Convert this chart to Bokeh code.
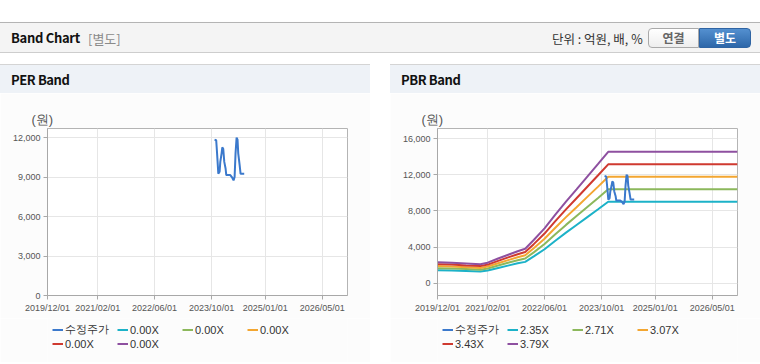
import pandas as pd
from bokeh.plotting import figure
from bokeh.models import (Range1d, FixedTicker, DatetimeTickFormatter, NumeralTickFormatter,
                          Legend, LegendItem, Title, Div, Spacer)
from bokeh.layouts import column, row
from bokeh.embed import file_html
from bokeh.resources import INLINE

# ---------------- data ----------------
x_start = "2019-12-01"
x_end = "2026-12-03"
x_ticks = ["2019-12-01", "2021-02-01", "2022-06-01", "2023-10-01", "2025-01-01", "2026-05-01"]

price_label = "수정주가"
price_dates = ["2023-10-26", "2023-11-09", "2023-11-15", "2023-11-21", "2023-11-27", "2023-12-08",
               "2023-12-14", "2023-12-25", "2023-12-31", "2024-01-08", "2024-01-17", "2024-01-28",
               "2024-02-03", "2024-03-08", "2024-03-25", "2024-04-05", "2024-04-14", "2024-04-22",
               "2024-05-01", "2024-05-09", "2024-05-15", "2024-05-27", "2024-06-04", "2024-07-05"]
price_values = [11850, 11800, 11000, 10150, 9250, 9400,
                10150, 10800, 11250, 11150, 10150, 9650,
                9150, 9150, 8950, 8750, 9000, 10800,
                12000, 11850, 10800, 9900, 9250, 9250]

per_labels = ["0.00X", "0.00X", "0.00X", "0.00X", "0.00X"]
per_yticks = [0, 3000, 6000, 9000, 12000]
per_yrange = (0, 12690)

band_dates = ["2019-12-01", "2020-04-01", "2020-08-01", "2020-12-01", "2021-02-01", "2021-05-01",
              "2021-08-01", "2021-10-15", "2021-12-18", "2022-03-01", "2022-06-01", "2022-09-01",
              "2022-12-01", "2023-03-01", "2023-06-01", "2023-09-01", "2023-11-26", "2026-12-03"]
pbr_labels = ["2.35X", "2.71X", "3.07X", "3.43X", "3.79X"]
pbr_235 = [1440, 1410, 1350, 1290, 1410, 1690, 1970, 2200, 2360, 2960, 3760, 4700, 5590, 6440, 7310, 8180, 9010, 9010]
pbr_271 = [1660, 1630, 1560, 1490, 1630, 1950, 2280, 2530, 2730, 3410, 4340, 5420, 6450, 7430, 8430, 9430, 10390, 10390]
pbr_307 = [1890, 1840, 1770, 1690, 1840, 2210, 2580, 2870, 3090, 3870, 4910, 6140, 7310, 8410, 9550, 10680, 11770, 11770]
pbr_343 = [2110, 2060, 1970, 1890, 2060, 2470, 2880, 3210, 3450, 4320, 5490, 6860, 8160, 9400, 10670, 11940, 13150, 13150]
pbr_379 = [2330, 2270, 2180, 2090, 2270, 2730, 3180, 3540, 3810, 4780, 6060, 7580, 9020, 10380, 11790, 13190, 14530, 14530]
pbr_yticks = [0, 4000, 8000, 12000, 16000]
pbr_yrange = (-1360, 17110)

price_color = "#3b79cc"
band_colors = ["#1cb2c8", "#8cb85c", "#f3a631", "#cf3a30", "#8e50a0"]

FONT = "Liberation Sans"
KFONT = "Noto Sans CJK KR"
PANEL_BG = "#fcfcfc"


def ts(s):
    return pd.Timestamp(s).to_pydatetime()


def make_fig(yr, yticks, band_series):
    p = figure(width=370, height=225, x_axis_type="datetime",
               x_range=Range1d(start=ts(x_start), end=ts(x_end)),
               y_range=Range1d(start=yr[0], end=yr[1]),
               output_backend="svg", toolbar_location=None,
               min_border_left=47, min_border_right=23, min_border_top=35, min_border_bottom=23,
               background_fill_color="white", border_fill_color=PANEL_BG,
               outline_line_color="#b4b4b4")
    p.xaxis.ticker = FixedTicker(ticks=[pd.Timestamp(t).value // 10**6 for t in x_ticks])
    fmt = "%Y/%m/%d"
    p.xaxis.formatter = DatetimeTickFormatter(milliseconds=fmt, seconds=fmt, minsec=fmt, minutes=fmt,
                                              hourmin=fmt, hours=fmt, days=fmt, months=fmt, years=fmt)
    p.yaxis.ticker = FixedTicker(ticks=yticks)
    p.yaxis.formatter = NumeralTickFormatter(format="0,0")
    for ax in (p.xaxis[0], p.yaxis[0]):
        ax.axis_line_color = "#a8a8a8"
        ax.major_tick_line_color = "#a8a8a8"
        ax.major_tick_out = 4
        ax.major_tick_in = 0
        ax.minor_tick_line_color = None
        ax.major_label_text_font = FONT
        ax.major_label_text_font_size = "9px"
        ax.major_label_text_color = "#555555"
        ax.major_label_standoff = 3
    p.grid.grid_line_color = "#e6e6e6"

    p.add_layout(Title(text="(원)", align="left", offset=-16, standoff=3,
                       text_font=FONT, text_font_size="13px", text_font_style="normal",
                       text_color="#555555"), "above")

    for ser, col in zip(band_series, band_colors):
        if ser is not None:
            p.line(x=[ts(d) for d in band_dates], y=ser, line_color=col, line_width=2)
    p.line(x=[ts(d) for d in price_dates], y=price_values, line_color=price_color, line_width=2)
    return p


def make_legend(band_labels):
    # legend-only strip below the chart (its frame is aligned with the chart frame above)
    lf = figure(width=370, height=44, output_backend="svg", toolbar_location=None,
                x_axis_location=None, y_axis_location=None, min_border=0,
                x_range=Range1d(0, 1), y_range=Range1d(0, 1),
                outline_line_color=None, background_fill_color=PANEL_BG, border_fill_color=PANEL_BG)
    lf.grid.visible = False
    hidden = dict(x=[5, 6], y=[5, 6], line_width=2)  # outside the visible range: legend swatches only
    items = [LegendItem(label=price_label, renderers=[lf.line(line_color=price_color, **hidden)])]
    for lab, col in zip(band_labels, band_colors):
        items.append(LegendItem(label=lab, renderers=[lf.line(line_color=col, **hidden)]))
    common = dict(orientation="horizontal", border_line_color=None, background_fill_alpha=0,
                  glyph_width=11, glyph_height=13, label_height=13, label_width=52,
                  label_standoff=2, spacing=0, padding=0, margin=0,
                  label_text_font=FONT, label_text_font_size="11px", label_text_color="#333333")
    lf.add_layout(Legend(items=items[:4], location=(5, 25), **common), "center")
    lf.add_layout(Legend(items=items[4:], location=(5, 12), **common), "center")
    return lf


p_per = make_fig(per_yrange, per_yticks, [None] * 5)
p_pbr = make_fig(pbr_yrange, pbr_yticks, [pbr_235, pbr_271, pbr_307, pbr_343, pbr_379])
l_per = make_legend(per_labels)
l_pbr = make_legend(pbr_labels)

top_html = f"""
<div style="position:relative;width:760px;height:53px;background:#ffffff;overflow:hidden;">
 <div style="position:absolute;left:0;top:22px;width:760px;height:31px;box-sizing:border-box;background:#f4f4f4;border-top:1px solid #b4b4b4;border-bottom:1px solid #cdcdcd;box-shadow:0 1px 2px rgba(0,0,0,0.10);"></div>
 <span style="position:absolute;left:11px;top:29px;font:bold 13px '{KFONT}';letter-spacing:-0.3px;line-height:18px;color:#111;white-space:nowrap;">Band Chart</span>
 <span style="position:absolute;left:88px;top:30px;font:normal 13px '{KFONT}';line-height:17px;color:#8a8a8a;white-space:nowrap;">[별도]</span>
 <span style="position:absolute;left:552px;top:31px;font:normal 12.5px '{KFONT}';line-height:16px;color:#333;white-space:nowrap;">단위 : 억원, 배, %</span>
 <div style="position:absolute;left:648px;top:28px;width:51px;height:20px;box-sizing:border-box;border:1px solid #a9a9a9;border-radius:4px 0 0 4px;background:linear-gradient(#ffffff,#eeeeee);font:bold 12px '{KFONT}';line-height:18px;text-align:center;color:#666;">연결</div>
 <div style="position:absolute;left:699px;top:28px;width:52px;height:20px;box-sizing:border-box;border:1px solid #2f64a3;border-radius:0 4px 4px 0;background:linear-gradient(#5490d0,#2d67a9);font:bold 12px '{KFONT}';line-height:18px;text-align:center;color:#fff;">별도</div>
</div>
"""


def panel_header(text):
    return Div(text=f"""<div style="position:relative;width:370px;height:29px;box-sizing:border-box;background:#eef2f7;border-top:1px solid #d4d4d4;">
<span style="position:absolute;left:11px;top:6px;font:bold 13px '{KFONT}';letter-spacing:-0.4px;line-height:18px;color:#111;white-space:nowrap;">{text}</span></div>""",
               width=370, height=29, margin=0)


def bottom_line():
    return Div(text='<div style="width:370px;height:1px;background:#d8d8d8;"></div>', width=370, height=1, margin=0)


top = Div(text=top_html, width=760, height=53, margin=0)
left_panel = column(panel_header("PER Band"), p_per, l_per, bottom_line(), spacing=0)
right_panel = column(panel_header("PBR Band"), p_pbr, l_pbr, bottom_line(), spacing=0)
layout = column(top, Spacer(width=760, height=11),
                row(left_panel, Spacer(width=20, height=10), right_panel, spacing=0),
                spacing=0)

open("out.html", "w").write(file_html(layout, INLINE))
